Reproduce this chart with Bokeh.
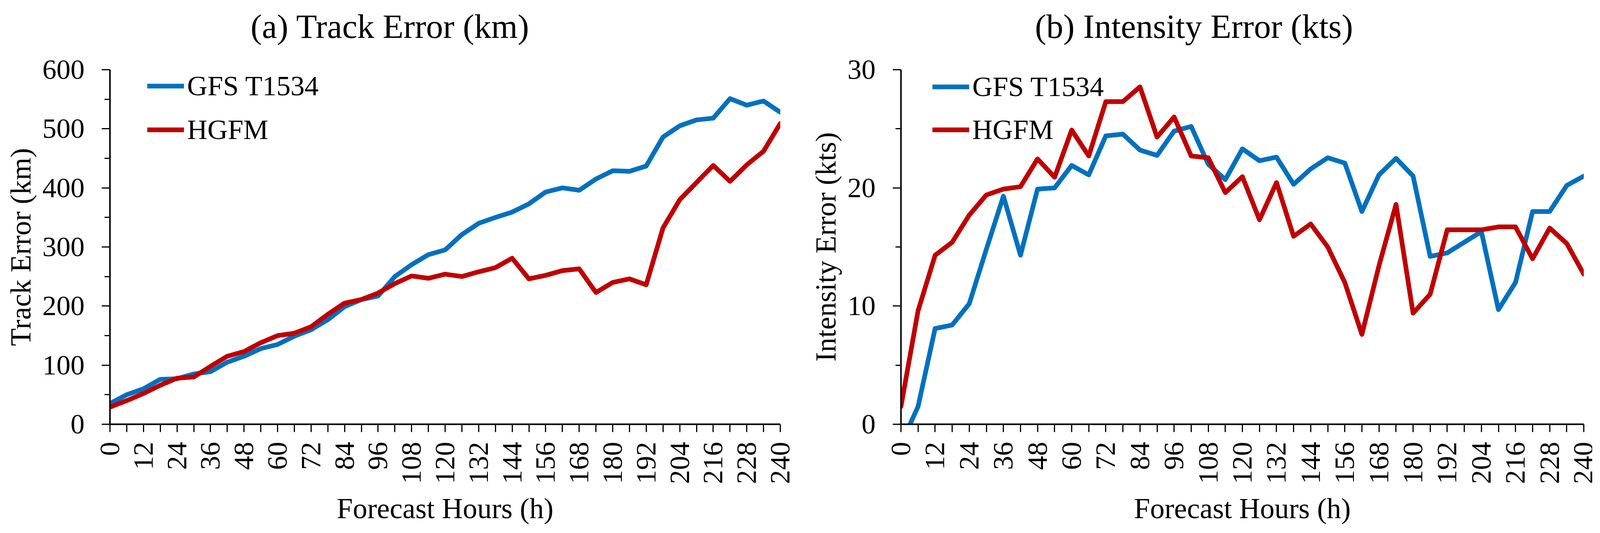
import math
from bokeh.plotting import figure
from bokeh.models import Range1d, FixedTicker, Legend, LegendItem, Title, ColumnDataSource
from bokeh.layouts import row
from bokeh.embed import file_html
from bokeh.resources import INLINE

# ---------------- data ----------------
hours = list(range(0, 241, 6))
x_tick_values = list(range(0, 241, 12))
x_tick_labels = [str(v) for v in x_tick_values]

track_gfs = [35, 50, 60, 76, 77, 85, 89, 105, 115, 128,
             135, 149, 160, 177, 199, 211, 217, 250, 270, 287,
             295, 321, 340, 350, 359, 373, 393, 400, 396, 415,
             429, 428, 437, 486, 505, 515, 518, 551, 540, 547, 528]
track_hgfm = [29, 40, 52, 66, 78, 80, 98, 115, 123, 138,
              150, 154, 165, 186, 205, 211, 222, 238, 251, 247,
              254, 250, 258, 265, 281, 246, 252, 260, 263, 223,
              240, 246, 236, 332, 380, 409, 438, 411, 439, 462, 509]

int_gfs = [-1.7, 1.5, 8.1, 8.4, 10.2, 14.8, 19.3, 14.3, 19.9, 20.0,
           21.9, 21.1, 24.4, 24.55, 23.2, 22.75, 24.8, 25.2, 22.0, 20.7,
           23.3, 22.3, 22.6, 20.3, 21.6, 22.55, 22.1, 18.0, 21.1, 22.5,
           21.0, 14.2, 14.5, 15.4, 16.3, 9.7, 12.0, 18.0, 18.0, 20.2, 21.0]
int_hgfm = [1.5, 9.6, 14.3, 15.4, 17.7, 19.4, 19.9, 20.1, 22.45, 20.9,
            24.9, 22.7, 27.3, 27.3, 28.55, 24.3, 26.0, 22.7, 22.55, 19.6,
            20.95, 17.3, 20.45, 15.9, 16.95, 15.0, 12.0, 7.6, 13.4, 18.6,
            9.4, 11.0, 16.45, 16.45, 16.45, 16.7, 16.7, 14.0, 16.6, 15.3, 12.7]

series_names = ["GFS T1534", "HGFM"]
series_colors = ["#0070C0", "#C00000"]

FONT = "Liberation Serif"


def make_panel(title, title_offset, ylabel, y_max, y_major, y_minor,
               gfs, hgfm, width, border_left, border_right, legend_loc, legend_spacing):
    p = figure(width=width, height=1345,
               x_range=Range1d(0, 240), y_range=Range1d(0, y_max),
               output_backend="svg", toolbar_location=None,
               min_border_left=border_left, min_border_right=border_right,
               min_border_top=178, min_border_bottom=255)
    p.xgrid.visible = False
    p.ygrid.visible = False
    p.outline_line_color = None
    p.background_fill_color = "white"
    p.border_fill_color = "white"

    src = ColumnDataSource(dict(h=hours, gfs=gfs, hgfm=hgfm))
    r1 = p.line("h", "gfs", source=src, line_color=series_colors[0], line_width=12,
                line_join="round", line_cap="round")
    r2 = p.line("h", "hgfm", source=src, line_color=series_colors[1], line_width=12,
                line_join="round", line_cap="round")

    # x axis
    xa = p.xaxis[0]
    xa.ticker = FixedTicker(ticks=x_tick_values, minor_ticks=list(range(6, 241, 12)))
    xa.major_label_overrides = {v: l for v, l in zip(x_tick_values, x_tick_labels)}
    xa.major_label_orientation = math.pi / 2
    xa.axis_label = "Forecast Hours (h)"
    # y axis
    ya = p.yaxis[0]
    ya.ticker = FixedTicker(ticks=y_major, minor_ticks=y_minor)
    ya.axis_label = ylabel

    for ax in (xa, ya):
        ax.axis_line_color = "black"
        ax.axis_line_width = 4
        ax.major_tick_line_color = "black"
        ax.major_tick_line_width = 3
        ax.minor_tick_line_color = "black"
        ax.minor_tick_line_width = 3
        ax.major_tick_in = 0
        ax.minor_tick_in = 0
        ax.major_label_text_font = FONT
        ax.major_label_text_font_size = "72px"
        ax.major_label_text_color = "black"
        ax.axis_label_text_font = FONT
        ax.axis_label_text_font_size = "74px"
        ax.axis_label_text_font_style = "normal"
        ax.axis_label_text_color = "black"
    xa.major_tick_out = 20
    xa.minor_tick_out = 20
    xa.major_label_standoff = 25
    xa.axis_label_standoff = 18
    ya.major_tick_out = 21
    ya.minor_tick_out = 14
    ya.major_label_standoff = 44
    ya.axis_label_standoff = 12

    legend = Legend(items=[LegendItem(label=series_names[0], renderers=[r1]),
                           LegendItem(label=series_names[1], renderers=[r2])],
                    location=legend_loc, glyph_width=94, glyph_height=84,
                    spacing=legend_spacing, label_standoff=8, padding=0, margin=0,
                    border_line_color=None, background_fill_alpha=0,
                    label_text_font=FONT, label_text_font_size="72px",
                    label_text_color="black")
    p.add_layout(legend)

    # spacer between frame and title (closest to the frame), then the title
    p.add_layout(Title(text=" ", text_font_size="42px", text_font=FONT), "above")
    p.add_layout(Title(text=title, align="left", offset=title_offset,
                       text_font=FONT, text_font_size="87px",
                       text_font_style="normal", text_color="black"), "above")
    return p


pa = make_panel("(a) Track Error (km)", 360, "Track Error (km)", 600,
                list(range(0, 601, 100)), list(range(50, 600, 100)),
                track_gfs, track_hgfm, width=2062, border_left=281, border_right=65,
                legend_loc=(96, 712), legend_spacing=28)
pb = make_panel("(b) Intensity Error (kts)", 343, "Intensity Error (kts)", 30,
                list(range(0, 31, 10)), [5, 15, 25],
                int_gfs, int_hgfm, width=2014, border_left=244, border_right=22,
                legend_loc=(81, 712), legend_spacing=26)

layout = row(pa, pb)
open("out.html", "w").write(file_html(layout, INLINE))
